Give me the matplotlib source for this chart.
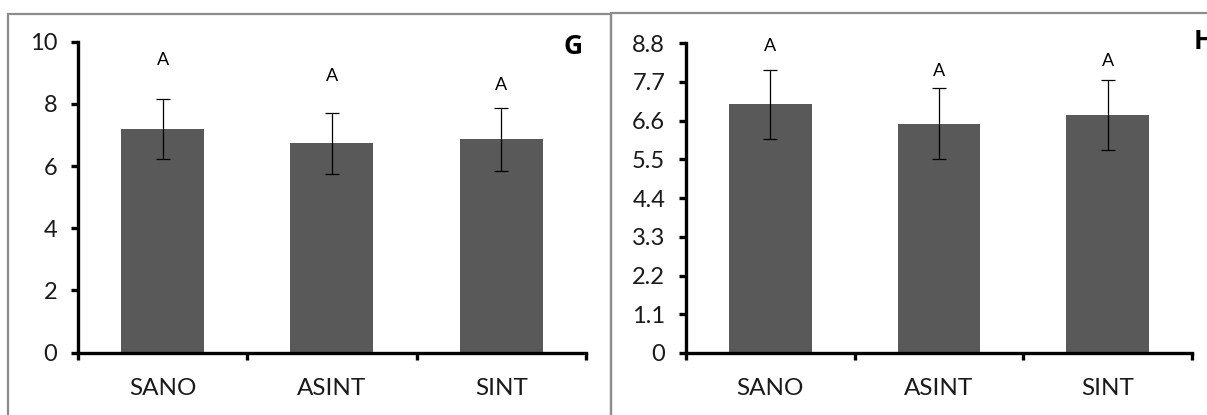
import numpy as np
import matplotlib
matplotlib.use("Agg")
import matplotlib.pyplot as plt
from matplotlib.patches import Rectangle

plt.rcParams['font.family'] = ['Lato', 'DejaVu Sans']

# Data
categories = ['SANO', 'ASINT', 'SINT']
g_means = [7.19, 6.73, 6.86]
g_err = [0.98, 0.98, 1.01]
g_letters = ['A', 'A', 'A']
g_letter_y = [9.4, 8.9, 8.6]
g_ticks = [0, 2, 4, 6, 8, 10]

h_means = [7.07, 6.52, 6.76]
h_err = [0.98, 1.0, 1.0]
h_letters = ['A', 'A', 'A']
h_letter_y = [8.72, 8.0, 8.3]
h_ticks = [0, 1.1, 2.2, 3.3, 4.4, 5.5, 6.6, 7.7, 8.8]
h_ticklabels = ['0', '1.1', '2.2', '3.3', '4.4', '5.5', '6.6', '7.7', '8.8']

bar_color = '#595959'
text_color = '#1a1a1a'

fig = plt.figure(figsize=(12.07, 4.15), dpi=100)

# panel frames (gray boxes, cut by image edge)
fig.patches.append(Rectangle((8 / 1207, -0.1), (611 - 8) / 1207, 1.1 - 14 / 415,
                             transform=fig.transFigure, fill=False,
                             edgecolor='#8c8c8c', lw=1.6))
fig.patches.append(Rectangle((611 / 1207, -0.1), 0.5, 1.1 - 13 / 415,
                             transform=fig.transFigure, fill=False,
                             edgecolor='#8c8c8c', lw=1.6))


def draw_panel(ax, means, err, letters, letter_y, ymax, ticks, ticklabels, tag):
    x = np.arange(len(categories))
    ax.bar(x, means, width=0.49, color=bar_color, zorder=2)
    ax.errorbar(x, means, yerr=err, fmt='none', ecolor='black',
                elinewidth=0.9, capsize=5, capthick=0.9, zorder=3)
    for xi, lab, ly in zip(x, letters, letter_y):
        ax.text(xi, ly, lab, ha='center', va='center', fontsize=13,
                color='black')
    ax.set_xlim(-0.5, 2.5)
    ax.set_ylim(0, ymax)
    ax.set_yticks(ticks)
    ax.set_yticklabels(ticklabels)
    ax.set_xticks(x)
    ax.set_xticklabels(categories)
    ax.set_xticks([-0.5, 0.5, 1.5, 2.5], minor=True)
    for s in ['top', 'right']:
        ax.spines[s].set_visible(False)
    for s in ['left', 'bottom']:
        ax.spines[s].set_linewidth(2.4)
    ax.tick_params(axis='y', length=5, width=2.4, pad=10, labelsize=17,
                   labelcolor=text_color)
    ax.tick_params(axis='x', which='major', length=0, pad=18, labelsize=17.5,
                   labelcolor=text_color)
    ax.tick_params(axis='x', which='minor', length=5, width=2.4)
    ax.text(1.0, 1.0, tag, transform=ax.transAxes, ha='left', va='center',
            fontsize=19, fontweight='bold', color='black',
            family=['Open Sans', 'DejaVu Sans'])


axG = fig.add_axes([0.0646, 0.1506, 0.4209, 0.7489])
draw_panel(axG, g_means, g_err, g_letters, g_letter_y, 10, g_ticks,
           [str(t) for t in g_ticks], 'G')
axG.texts[-1].set_position((0.955, 0.985))

axH = fig.add_axes([0.5684, 0.1494, 0.4192, 0.7463])
draw_panel(axH, h_means, h_err, h_letters, h_letter_y, 8.8, h_ticks,
           h_ticklabels, 'H')
axH.texts[-1].set_position((1.003, 1.005))

fig.savefig('out.png', dpi=100)
